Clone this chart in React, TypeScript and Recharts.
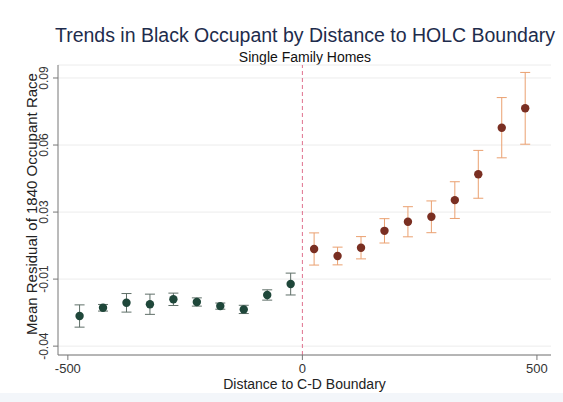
import {
    ComposedChart,
    Scatter,
    ErrorBar,
    XAxis,
    YAxis,
    CartesianGrid,
    ReferenceLine,
} from "recharts";

// bins left of the C-D boundary
const leftDistance = [-475, -425, -375, -325, -275, -225, -175, -125, -75, -25];
const leftMean = [-0.0254, -0.0214, -0.019, -0.0197, -0.0173, -0.0186, -0.0206, -0.0222, -0.0152, -0.0099];
const leftErr = [0.0054, 0.0016, 0.0045, 0.0049, 0.003, 0.002, 0.0015, 0.002, 0.0025, 0.0053];

// bins right of the boundary
const rightDistance = [25, 75, 125, 175, 225, 275, 325, 375, 425, 475];
const rightMean = [0.0071, 0.0037, 0.0077, 0.0159, 0.0203, 0.0227, 0.0308, 0.0433, 0.0659, 0.0753];
const rightErr = [0.0078, 0.0043, 0.0054, 0.0059, 0.0073, 0.0077, 0.0089, 0.0116, 0.0146, 0.0174];

const xTicks = [-500, 0, 500];
const yTicks = [-0.04, -0.0075, 0.025, 0.0575, 0.09];
const yTickLabels = ["-0.04", "-0.01", "0.03", "0.06", "0.09"];

const leftData = leftDistance.map((d, i) => ({ x: d, y: leftMean[i], err: leftErr[i] }));
const rightData = rightDistance.map((d, i) => ({ x: d, y: rightMean[i], err: rightErr[i] }));

const font = "'Liberation Sans', Arial, sans-serif";

const YTick = (props: any) => {
    const { x, y, payload, index } = props;
    const tx = x - 3;
    return (
        <text
            x={tx}
            y={y}
            transform={`rotate(-90 ${tx} ${y})`}
            textAnchor="middle"
            fontSize={12}
            fill="#333"
            fontFamily={font}
        >
            {yTickLabels[index] ?? payload.value}
        </text>
    );
};

const dot = (fill: string) => (props: any) => (
    <circle cx={props.cx} cy={props.cy} r={4.2} fill={fill} />
);

export default function App() {
    return (
        <div style={{ position: "absolute", left: 0, top: 0, width: 563, height: 402, background: "#fff", fontFamily: font }}>
            <div style={{ position: "absolute", left: 0, top: 393, width: 563, height: 9, background: "#f3f6fa" }} />
            <div style={{ position: "absolute", left: 50, width: 510, top: 24, textAlign: "center", fontSize: 19.5, color: "#1e2c4c", whiteSpace: "nowrap" }}>
                Trends in Black Occupant by Distance to HOLC Boundary
            </div>
            <div style={{ position: "absolute", left: 50, width: 510, top: 49, textAlign: "center", fontSize: 14, color: "#111" }}>
                Single Family Homes
            </div>
            <div
                style={{
                    position: "absolute",
                    left: 31,
                    top: 204,
                    fontSize: 15,
                    color: "#222",
                    whiteSpace: "nowrap",
                    transform: "translate(-50%, -50%) rotate(-90deg)",
                }}
            >
                Mean Residual of 1840 Occupant Race
            </div>
            <div style={{ position: "absolute", left: 58, width: 493, top: 376, textAlign: "center", fontSize: 14, color: "#222" }}>
                Distance to C-D Boundary
            </div>
            <ComposedChart
                width={563}
                height={402}
                margin={{ top: 65, right: 12, bottom: 17, left: 0 }}
                style={{ position: "absolute", left: 0, top: 0 }}
            >
                <CartesianGrid horizontal vertical={false} stroke="#ececec" />
                <XAxis
                    type="number"
                    dataKey="x"
                    domain={[-521, 530]}
                    ticks={xTicks}
                    tick={{ fontSize: 13, fill: "#333", fontFamily: font }}
                    tickSize={5}
                    tickMargin={4}
                    stroke="#777"
                    allowDataOverflow
                />
                <YAxis
                    type="number"
                    dataKey="y"
                    domain={[-0.0443, 0.0963]}
                    ticks={yTicks}
                    tick={<YTick />}
                    tickSize={5}
                    width={58}
                    stroke="#777"
                    allowDataOverflow
                />
                <ReferenceLine x={0} stroke="#e0708e" strokeDasharray="4 3" strokeWidth={1} />
                <Scatter data={leftData} shape={dot("#1f473a")} isAnimationActive={false}>
                    <ErrorBar dataKey="err" direction="y" width={5} stroke="#5f6f68" strokeWidth={1} />
                </Scatter>
                <Scatter data={rightData} shape={dot("#7a2f22")} isAnimationActive={false}>
                    <ErrorBar dataKey="err" direction="y" width={5} stroke="#eaa070" strokeWidth={1} />
                </Scatter>
            </ComposedChart>
        </div>
    );
}
